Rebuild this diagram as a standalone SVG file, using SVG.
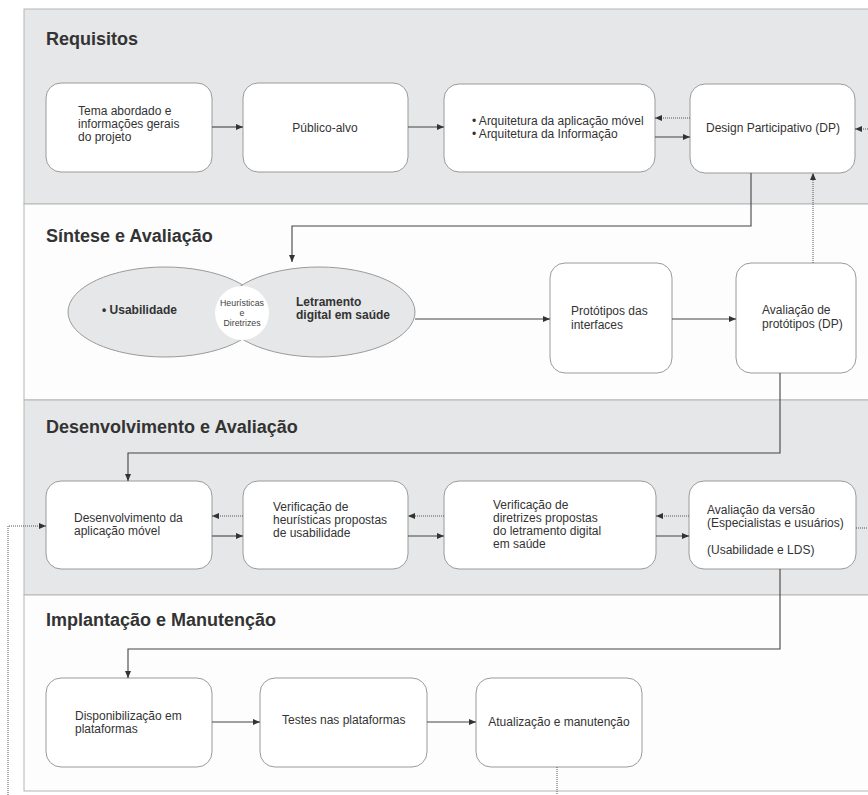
<svg xmlns="http://www.w3.org/2000/svg" width="868" height="795" viewBox="0 0 868 795">
<defs>
<style>
.band-g{fill:#e6e7e8;stroke:#b5b5b5;stroke-width:1}
.band-w{fill:#fdfdfd;stroke:#b5b5b5;stroke-width:1}
.title{font-family:"Liberation Sans",Arial,sans-serif;font-size:18px;font-weight:bold;fill:#333}
.box{fill:#fff;stroke:#9a9a9a;stroke-width:1}
.t{font-family:"Liberation Sans",Arial,sans-serif;font-size:12px;fill:#333}
.tc{font-family:"Liberation Sans",Arial,sans-serif;font-size:12px;fill:#333;text-anchor:middle}
.tb{font-family:"Liberation Sans",Arial,sans-serif;font-size:12px;font-weight:bold;fill:#333}
.ts{font-family:"Liberation Sans",Arial,sans-serif;font-size:8.8px;fill:#444;text-anchor:middle}
.ell{fill:#e6e7e8;stroke:#9a9a9a;stroke-width:1}
.solid{fill:none;stroke:#444;stroke-width:1.1}
.dot{fill:none;stroke:#555;stroke-width:1;stroke-dasharray:1 1}
</style>
<marker id="ah" markerUnits="userSpaceOnUse" markerWidth="8" markerHeight="7" refX="7" refY="3" orient="auto">
<path d="M0,0 L7,3 L0,6 z" fill="#333"/>
</marker>
</defs>

<g id="bands">
<rect class="band-g" x="24" y="9" width="860" height="195"/>
<rect class="band-w" x="24" y="204" width="860" height="196"/>
<rect class="band-g" x="24" y="400" width="860" height="195"/>
<rect class="band-w" x="24" y="595" width="860" height="196"/>
<text class="title" x="46" y="45">Requisitos</text>
<text class="title" x="46" y="242">Síntese e Avaliação</text>
<text class="title" x="46" y="433">Desenvolvimento e Avaliação</text>
<text class="title" x="46" y="626">Implantação e Manutenção</text>
</g>

<g id="n-tema">
<rect class="box" x="46" y="83" width="166" height="89" rx="15"/>
<text class="t" x="78" y="115">Tema abordado e</text>
<text class="t" x="78" y="128">informações gerais</text>
<text class="t" x="78" y="141">do projeto</text>
</g>
<g id="n-publico">
<rect class="box" x="243" y="83" width="165" height="89" rx="15"/>
<text class="tc" x="325" y="132">Público-alvo</text>
</g>
<g id="n-arquitetura">
<rect class="box" x="444" y="84" width="211" height="88" rx="15"/>
<text class="t" x="472" y="125">• Arquitetura da aplicação móvel</text>
<text class="t" x="472" y="138">• Arquitetura da Informação</text>
</g>
<g id="n-dp">
<rect class="box" x="690" y="84" width="165" height="89" rx="15"/>
<text class="tc" x="773" y="132">Design Participativo (DP)</text>
</g>

<g id="n-venn">
<ellipse class="ell" cx="165" cy="312" rx="97" ry="45"/>
<ellipse class="ell" cx="319" cy="312" rx="96" ry="45"/>
<circle cx="242" cy="313" r="27" fill="#fff"/>
<text class="tb" x="102" y="314">• Usabilidade</text>
<text class="tb" x="296" y="306">Letramento</text>
<text class="tb" x="296" y="319">digital em saúde</text>
<text class="ts" x="242" y="306">Heurísticas</text>
<text class="ts" x="242" y="316">e</text>
<text class="ts" x="242" y="326">Diretrizes</text>
</g>
<g id="n-prototipos">
<rect class="box" x="550" y="263" width="122" height="110" rx="15"/>
<text class="t" x="571" y="315">Protótipos das</text>
<text class="t" x="571" y="329">interfaces</text>
</g>
<g id="n-avaliacao-prot">
<rect class="box" x="736" y="263" width="120" height="110" rx="15"/>
<text class="t" x="762" y="314">Avaliação de</text>
<text class="t" x="762" y="328">protótipos (DP)</text>
</g>

<g id="n-desenv">
<rect class="box" x="46" y="481" width="166" height="88" rx="15"/>
<text class="t" x="74" y="522">Desenvolvimento da</text>
<text class="t" x="74" y="535">aplicação móvel</text>
</g>
<g id="n-heuristicas">
<rect class="box" x="243" y="481" width="165" height="88" rx="15"/>
<text class="t" x="273" y="511">Verificação de</text>
<text class="t" x="273" y="524">heurísticas propostas</text>
<text class="t" x="273" y="537">de usabilidade</text>
</g>
<g id="n-diretrizes">
<rect class="box" x="444" y="481" width="212" height="88" rx="15"/>
<text class="t" x="493" y="509">Verificação de</text>
<text class="t" x="493" y="522">diretrizes propostas</text>
<text class="t" x="493" y="535">do letramento digital</text>
<text class="t" x="493" y="548">em saúde</text>
</g>
<g id="n-avaliacao-versao">
<rect class="box" x="689" y="481" width="167" height="88" rx="15"/>
<text class="t" x="707" y="514">Avaliação da versão</text>
<text class="t" x="707" y="527">(Especialistas e usuários)</text>
<text class="t" x="707" y="554">(Usabilidade e LDS)</text>
</g>

<g id="n-disponibilizacao">
<rect class="box" x="46" y="678" width="166" height="89" rx="15"/>
<text class="t" x="75" y="720">Disponibilização em</text>
<text class="t" x="75" y="733">plataformas</text>
</g>
<g id="n-testes">
<rect class="box" x="260" y="678" width="167" height="89" rx="15"/>
<text class="t" x="282" y="724">Testes nas plataformas</text>
</g>
<g id="n-atualizacao">
<rect class="box" x="476" y="678" width="166" height="89" rx="15"/>
<text class="tc" x="559" y="726">Atualização e manutenção</text>
</g>

<g id="connectors">
<path class="solid" d="M212,127 H243" marker-end="url(#ah)"/>
<path class="solid" d="M408,127 H444" marker-end="url(#ah)"/>
<path class="solid" d="M655,137 H690" marker-end="url(#ah)"/>
<path class="dot" d="M690,118 H655" marker-end="url(#ah)"/>
<path class="dot" d="M868,129 H855" marker-end="url(#ah)"/>
<path class="solid" d="M751,173 V226 H292 V262" marker-end="url(#ah)"/>
<path class="dot" d="M813,263 V173" marker-end="url(#ah)"/>
<path class="solid" d="M415,319 H550" marker-end="url(#ah)"/>
<path class="solid" d="M672,319 H736" marker-end="url(#ah)"/>
<path class="solid" d="M780,373 V453 H128 V481" marker-end="url(#ah)"/>
<path class="dot" d="M243,516 H212" marker-end="url(#ah)"/>
<path class="solid" d="M212,536 H243" marker-end="url(#ah)"/>
<path class="dot" d="M444,516 H408" marker-end="url(#ah)"/>
<path class="solid" d="M408,536 H444" marker-end="url(#ah)"/>
<path class="dot" d="M689,516 H656" marker-end="url(#ah)"/>
<path class="solid" d="M656,536 H689" marker-end="url(#ah)"/>
<path class="dot" d="M856,528 H868"/>
<path class="solid" d="M780,569 V649 H128 V678" marker-end="url(#ah)"/>
<path class="solid" d="M212,722 H260" marker-end="url(#ah)"/>
<path class="solid" d="M427,722 H476" marker-end="url(#ah)"/>
<path class="dot" d="M557,767 V795"/>
<path class="dot" d="M8,795 V526 H46" marker-end="url(#ah)"/>
</g>
</svg>
